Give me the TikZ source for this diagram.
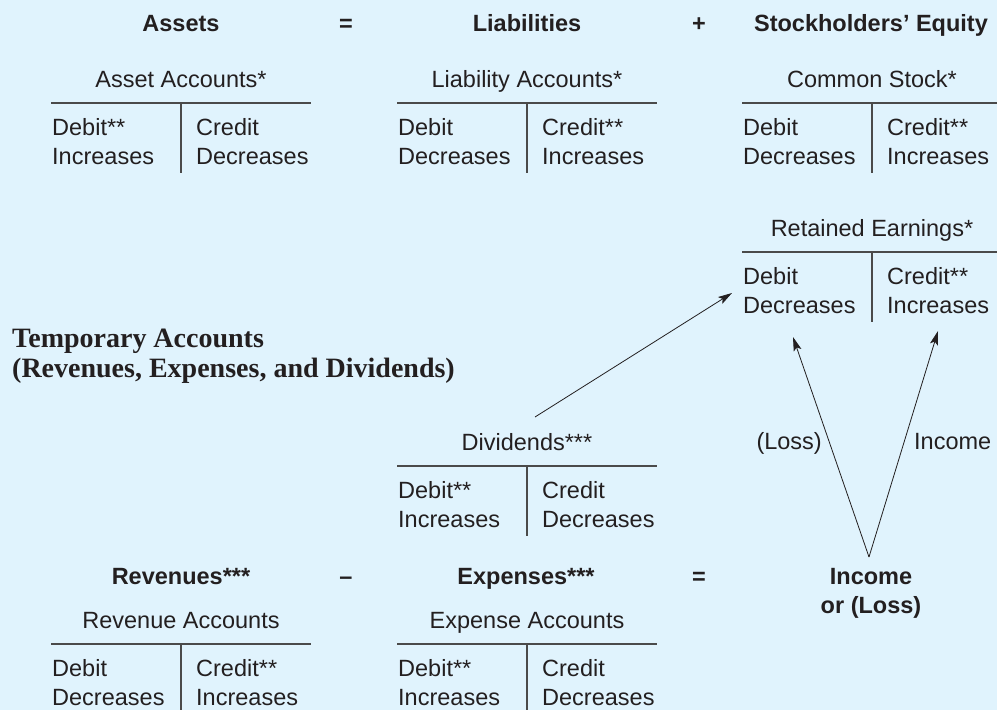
\documentclass[tikz,border=0pt]{standalone}
\usepackage{fontspec}
\setmainfont{Liberation Sans}
\newfontfamily\serifbold{Liberation Serif}
\usetikzlibrary{arrows.meta}
\definecolor{bgblue}{HTML}{E0F3FD}
\definecolor{ink}{HTML}{231F20}
\definecolor{rule}{HTML}{4A4A4A}
\newcommand{\tacct}[9]{%
  \coordinate (#1l) at (#2,#3);
  \coordinate (#1r) at (#2+260,#3);
  \coordinate (#1m) at (#2+130,#3);
  \coordinate (#1b) at (#2+130,#4);
  \draw[tline] (#1l) -- (#1r);
  \draw[tline] (#1m) -- (#1b);
  \node[txt, anchor=base] (#1t) at (#2+130,#3-16) {#5};
  \node[txt, anchor=base west] (#1d1) at (#2+1,#3+32) {#6};
  \node[txt, anchor=base west] (#1d2) at (#2+1,#3+61) {#7};
  \node[txt, anchor=base west] (#1c1) at (#2+145,#3+32) {#8};
  \node[txt, anchor=base west] (#1c2) at (#2+145,#3+61) {#9};
}
\begin{document}
\begin{tikzpicture}[x=1pt,y=-1pt,
  txt/.style={inner sep=0pt, text=ink, font=\fontsize{23.5}{28}\selectfont},
  hdr/.style={txt, font=\fontsize{23.5}{28}\selectfont\bfseries, anchor=base},
  tmp/.style={inner sep=0pt, text=ink, font=\fontsize{28}{30}\selectfont\serifbold\bfseries, anchor=base west},
  tline/.style={draw=rule, line width=1.3pt},
  arr/.style={draw=ink, line width=0.8pt, -{Stealth[length=14pt,width=8pt,inset=3pt]}}]
\fill[bgblue] (0,0) rectangle (997,710);
\useasboundingbox (0,0) rectangle (997,710);
\clip (0,0) rectangle (997,710);
% header row
\node[hdr] (assets) at (181,31) {Assets};
\node[hdr] (eq1) at (346,31) {=};
\node[hdr] (liab) at (527,31) {Liabilities};
\node[hdr] (plus) at (699,31) {+};
\node[hdr] (se) at (871,31) {Stockholders’ Equity};
% T accounts
\tacct{aa}{51}{103}{173}{Asset Accounts*}{Debit**}{Increases}{Credit}{Decreases}
\tacct{la}{397}{103}{173}{Liability Accounts*}{Debit}{Decreases}{Credit**}{Increases}
\tacct{cs}{742}{103}{173}{Common Stock*}{Debit}{Decreases}{Credit**}{Increases}
\tacct{re}{742}{252}{322}{Retained Earnings*}{Debit}{Decreases}{Credit**}{Increases}
\tacct{dv}{397}{466}{536}{Dividends***}{Debit**}{Increases}{Credit}{Decreases}
\tacct{rv}{51}{644}{712}{Revenue Accounts}{Debit}{Decreases}{Credit**}{Increases}
\tacct{ex}{397}{644}{712}{Expense Accounts}{Debit**}{Increases}{Credit}{Decreases}
% temporary accounts
\node[tmp] (tmp1) at (12,347) {Temporary Accounts};
\node[tmp] (tmp2) at (12,377) {(Revenues, Expenses, and Dividends)};
% lower equation row
\node[hdr] (rev) at (181,584) {Revenues***};
\node[hdr] (minus) at (346,584) {–};
\node[hdr] (exp) at (526,584) {Expenses***};
\node[hdr] (eq2) at (699,584) {=};
\node[hdr] (inc1) at (871,584) {Income};
\node[hdr] (inc2) at (871,613) {or (Loss)};
% arrow labels
\node[txt, anchor=base east] (losslbl) at (822,449) {(Loss)};
\node[txt, anchor=base west] (inclbl) at (914,449) {Income};
% arrows
\coordinate (apex) at (869,557);
\coordinate (lossend) at (793,337);
\coordinate (incend) at (938,331);
\coordinate (divstart) at (535,417);
\coordinate (divend) at (732,293);
\draw[arr] (divstart) -- (divend);
\draw[arr] (apex) -- (lossend);
\draw[arr] (apex) -- (incend);
\end{tikzpicture}
\end{document}
